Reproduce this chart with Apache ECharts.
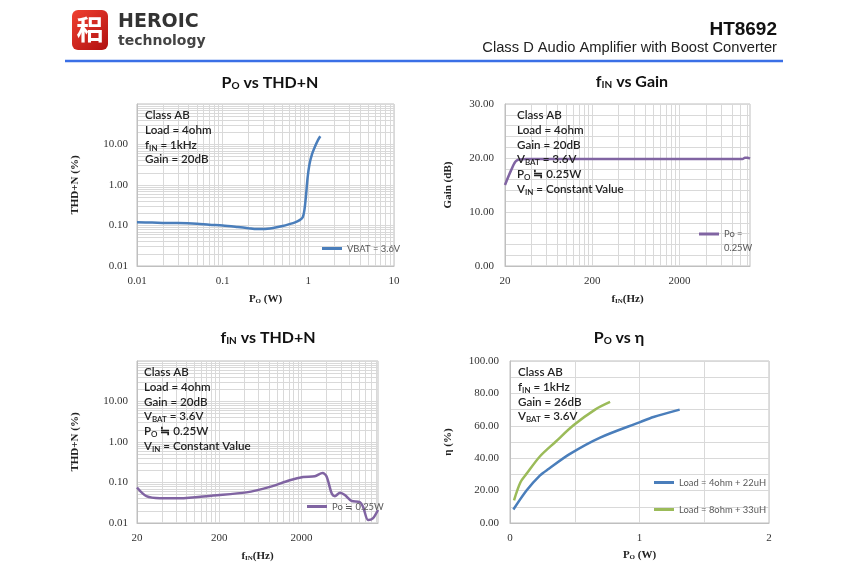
<!DOCTYPE html>
<html>
<head>
<meta charset="utf-8">
<title>HT8692 typical characteristics</title>
<script src="https://cdn.jsdelivr.net/npm/echarts@6/dist/echarts.min.js"></script>
<style>
  html, body { margin: 0; background: #fff; }
  #chart { width: 850px; height: 579px; }
</style>
</head>
<body>
<div id="chart"></div>
<script>
// ---- PO vs THD+N (top left) ----
const poThdX = [0.01, 0.015, 0.02, 0.03, 0.05, 0.07, 0.1, 0.15, 0.2, 0.25, 0.3, 0.4, 0.5, 0.6, 0.7, 0.8, 0.86, 0.9, 0.94, 0.98, 1.03, 1.1, 1.2, 1.3, 1.38]
const poThdY = [0.12, 0.118, 0.116, 0.115, 0.11, 0.104, 0.1, 0.092, 0.086, 0.082, 0.082, 0.088, 0.097, 0.108, 0.12, 0.138, 0.16, 0.24, 0.56, 1.5, 3.2, 5.6, 9, 13, 16]
const poThdXLabels = [0.01, 0.1, 1, 10]

// ---- fIN vs Gain (top right) ----
const finGainX = [20, 23.6, 27, 35, 60, 200, 2000, 10500, 11200, 12000, 12800]
const finGainY = [15.0, 17.8, 19.5, 19.8, 19.8, 19.8, 19.8, 19.8, 20.05, 20.05, 19.9]

// ---- fIN vs THD+N (bottom left) ----
const finThdX = [20, 26, 38, 66, 168, 428, 824, 1440, 2090, 2900, 3600, 4020, 4650, 5080, 5880, 6730, 8100, 10200, 11200, 12900, 14700, 17000]
const finThdY = [0.075, 0.046, 0.041, 0.041, 0.048, 0.057, 0.078, 0.114, 0.137, 0.143, 0.172, 0.143, 0.054, 0.046, 0.056, 0.049, 0.035, 0.033, 0.025, 0.0118, 0.013, 0.021]

const freqLabels = [20, 200, 2000]
const thdLabels = [0.01, 0.1, 1, 10]

// ---- PO vs efficiency (bottom right) ----
const eff4ohmX = [0.026, 0.129, 0.232, 0.3, 0.46, 0.696, 1.005, 1.108, 1.31]
const eff4ohmY = [8.3, 20.2, 29.4, 33.5, 42.5, 52.7, 62.3, 65.4, 70]
const eff8ohmX = [0.031, 0.08, 0.129, 0.232, 0.35, 0.49, 0.657, 0.773]
const eff8ohmY = [14, 25, 30.5, 41.2, 50, 60.3, 70, 74.7]
const effXLabels = [0, 1, 2]

const SERIF = '"Liberation Serif", "Times New Roman", serif'
const SANS = 'Lato, "Open Sans", sans-serif'
const gridColor = '#d9d9d9'
const borderColor = '#bfbfbf'

// gridline values 1..9 x 10^n starting from lo (log axes)
const logLines = (lo, hi) => {
  const out = []
  for (let d = lo; d <= hi * 1.0001; d *= 10) {
    for (let k = 1; k <= 9; k++) {
      const v = +(d * k).toPrecision(6)
      if (v <= hi * 1.0001) out.push(v)
    }
  }
  return out
}
const pairs = (xs, ys) => xs.map((x, i) => [x, ys[i]])

const sub = { fontSize: 8, lineHeight: 8, verticalAlign: 'bottom' }
const tickLabel = { fontFamily: SERIF, fontSize: 11, color: '#333' }
const nameStyle = {
  fontFamily: SERIF, fontSize: 11, fontWeight: 'bold', color: '#222',
  rich: { s: { fontFamily: SERIF, fontSize: 7, fontWeight: 'bold', verticalAlign: 'bottom', lineHeight: 9, color: '#222' } }
}

const logX = (gi, min, max, labels, name, gap) => ({
  gridIndex: gi, type: 'log', min, max,
  name, nameLocation: 'middle', nameGap: gap, nameTextStyle: nameStyle,
  axisLine: { lineStyle: { color: borderColor } },
  axisTick: { show: false, customValues: logLines(min, max) },
  axisLabel: { ...tickLabel, margin: 10, customValues: labels, formatter: (v) => String(v) },
  splitLine: { show: true, lineStyle: { color: gridColor } }
})
const logY = (gi, name) => ({
  gridIndex: gi, type: 'log', min: 0.01, max: 100,
  name, nameLocation: 'middle', nameGap: 56, nameTextStyle: nameStyle,
  axisLine: { show: true, lineStyle: { color: borderColor } },
  axisTick: { show: false, customValues: logLines(0.01, 100) },
  axisLabel: { ...tickLabel, margin: 9, customValues: thdLabels, formatter: (v) => v.toFixed(2) },
  splitLine: { show: true, lineStyle: { color: gridColor } }
})

const note = (x, y, text) => ({
  type: 'text', x, y, z: 20,
  style: {
    text, font: '600 11.6px ' + SANS, fill: '#222', lineHeight: 14.7,
    rich: { s: { ...sub, fontFamily: SANS, fontWeight: 600, fill: '#222' } }
  }
})
const title = (text, x, y) => ({
  type: 'text', x, y, z: 20,
  style: {
    text, font: 'bold 16px ' + SANS, fill: '#111', align: 'center', verticalAlign: 'middle',
    rich: { s: { fontFamily: SANS, fontWeight: 'bold', fontSize: 10, lineHeight: 9, verticalAlign: 'bottom', fill: '#111' } }
  }
})

const legendBase = {
  z: 20, icon: 'rect', itemWidth: 20, itemHeight: 3, padding: 0, selectedMode: false,
  textStyle: { fontFamily: SANS, fontSize: 9.4, color: '#595959' }
}

const option = {
  animation: false,
  grid: [
    { left: 137, top: 104, width: 257, height: 162, show: true, borderColor, borderWidth: 1 },
    { left: 505, top: 104, width: 245, height: 162, show: true, borderColor, borderWidth: 1 },
    { left: 137, top: 361, width: 241, height: 162, show: true, borderColor, borderWidth: 1 },
    { left: 510, top: 361, width: 259, height: 162, show: true, borderColor, borderWidth: 1 }
  ],
  xAxis: [
    logX(0, 0.01, 10, poThdXLabels, 'P{s|O} (W)', 28),
    logX(1, 20, 12800, freqLabels, 'f{s|IN}(Hz)', 28),
    logX(2, 20, 17000, freqLabels, 'f{s|IN}(Hz)', 28),
    {
      gridIndex: 3, type: 'value', min: 0, max: 2, interval: 0.5,
      name: 'P{s|O} (W)', nameLocation: 'middle', nameGap: 27, nameTextStyle: nameStyle,
      axisLine: { lineStyle: { color: borderColor } },
      axisTick: { show: false },
      axisLabel: { ...tickLabel, margin: 10, customValues: effXLabels },
      splitLine: { show: true, lineStyle: { color: gridColor } }
    }
  ],
  yAxis: [
    logY(0, 'THD+N (%)'),
    {
      gridIndex: 1, type: 'value', min: 0, max: 30, interval: 10,
      name: 'Gain (dB)', nameLocation: 'middle', nameGap: 51, nameTextStyle: nameStyle,
      axisLine: { show: true, lineStyle: { color: borderColor } },
      axisTick: { show: false },
      minorTick: { show: false, splitNumber: 5 },
      minorSplitLine: { show: true, lineStyle: { color: gridColor } },
      axisLabel: { ...tickLabel, margin: 11, formatter: (v) => v.toFixed(2) },
      splitLine: { show: true, lineStyle: { color: gridColor } }
    },
    logY(2, 'THD+N (%)'),
    {
      gridIndex: 3, type: 'value', min: 0, max: 100, interval: 20,
      name: 'η (%)', nameLocation: 'middle', nameGap: 56, nameTextStyle: nameStyle,
      axisLine: { show: true, lineStyle: { color: borderColor } },
      axisTick: { show: false },
      minorTick: { show: false, splitNumber: 2 },
      minorSplitLine: { show: true, lineStyle: { color: gridColor } },
      axisLabel: { ...tickLabel, margin: 11, formatter: (v) => v.toFixed(2) },
      splitLine: { show: true, lineStyle: { color: gridColor } }
    }
  ],
  legend: [
    { ...legendBase, data: ['VBAT = 3.6V'], left: 322, top: 244 },
    { ...legendBase, data: ['Po =\n0.25W'], left: 699, top: 213,
      textStyle: { ...legendBase.textStyle, lineHeight: 14 },
      formatter: (name) => '\n' + name },
    { ...legendBase, data: ['Po ≒ 0.25W'], left: 307, top: 502 },
    { ...legendBase, orient: 'vertical', itemGap: 18, data: ['Load = 4ohm + 22uH', 'Load = 8ohm + 33uH'], left: 654, top: 478 }
  ],
  series: [
    { name: 'VBAT = 3.6V', type: 'line', xAxisIndex: 0, yAxisIndex: 0, data: pairs(poThdX, poThdY),
      smooth: 0.3, symbol: 'none', color: '#4a7ebb', lineStyle: { width: 2.5 } },
    { name: 'Po =\n0.25W', type: 'line', xAxisIndex: 1, yAxisIndex: 1, data: pairs(finGainX, finGainY),
      smooth: 0.3, symbol: 'none', color: '#8064a2', lineStyle: { width: 2.5 } },
    { name: 'Po ≒ 0.25W', type: 'line', xAxisIndex: 2, yAxisIndex: 2, data: pairs(finThdX, finThdY),
      smooth: 0.3, symbol: 'none', color: '#8064a2', lineStyle: { width: 2.5 } },
    { name: 'Load = 4ohm + 22uH', type: 'line', xAxisIndex: 3, yAxisIndex: 3, data: pairs(eff4ohmX, eff4ohmY),
      smooth: 0.3, symbol: 'none', color: '#4a7ebb', lineStyle: { width: 2.5 } },
    { name: 'Load = 8ohm + 33uH', type: 'line', xAxisIndex: 3, yAxisIndex: 3, data: pairs(eff8ohmX, eff8ohmY),
      smooth: 0.3, symbol: 'none', color: '#9bbb59', lineStyle: { width: 2.5 } }
  ],
  graphic: [
    // header
    { type: 'rect', shape: { x: 72, y: 10, width: 36, height: 40, r: 6 },
      style: { fill: new echarts.graphic.LinearGradient(0, 0, 1, 1, [{ offset: 0, color: '#f04030' }, { offset: 1, color: '#b01010' }]) } },
    { type: 'text', x: 90, y: 30, style: { text: '稆', font: 'bold 27px "Noto Sans CJK SC"', fill: '#fff', align: 'center', verticalAlign: 'middle' } },
    { type: 'text', x: 118, y: 22, style: { text: 'HEROIC', font: 'bold 19px "DejaVu Sans"', fill: '#333', verticalAlign: 'middle',
      shadowColor: 'rgba(0,0,0,0.35)', shadowBlur: 2, shadowOffsetX: 1, shadowOffsetY: 1 } },
    { type: 'text', x: 118, y: 41, style: { text: 'technology', font: 'bold 14px "DejaVu Sans"', fill: '#444', verticalAlign: 'middle',
      shadowColor: 'rgba(0,0,0,0.35)', shadowBlur: 2, shadowOffsetX: 1, shadowOffsetY: 1 } },
    { type: 'text', x: 777, y: 30, style: { text: 'HT8692', font: 'bold 19px "Liberation Sans"', fill: '#111', align: 'right', verticalAlign: 'middle' } },
    { type: 'text', x: 777, y: 48, style: { text: 'Class D Audio Amplifier with Boost Converter', font: '14.7px "Liberation Sans"', fill: '#222', align: 'right', verticalAlign: 'middle' } },
    { type: 'line', shape: { x1: 65, y1: 61, x2: 783, y2: 61 }, style: { stroke: '#3a6fe6', lineWidth: 2.5 } },
    // chart titles
    title('P{s|O} vs THD+N', 270, 83),
    title('f{s|IN} vs Gain', 632, 82),
    title('f{s|IN} vs THD+N', 268, 338),
    title('P{s|O} vs η', 619, 338),
    // condition notes
    note(145, 108, 'Class AB\nLoad = 4ohm\nf{s|IN} = 1kHz\nGain = 20dB'),
    note(517, 108, 'Class AB\nLoad = 4ohm\nGain = 20dB\nV{s|BAT} = 3.6V\nP{s|O} ≒ 0.25W\nV{s|IN} = Constant Value'),
    note(144, 365, 'Class AB\nLoad = 4ohm\nGain = 20dB\nV{s|BAT} = 3.6V\nP{s|O} ≒ 0.25W\nV{s|IN} = Constant Value'),
    note(518, 365, 'Class AB\nf{s|IN} = 1kHz\nGain = 26dB\nV{s|BAT} = 3.6V')
  ]
}

const myChart = echarts.init(document.getElementById('chart'))
myChart.setOption(option)
window.addEventListener('resize', () => myChart.resize())
</script>
</body>
</html>
